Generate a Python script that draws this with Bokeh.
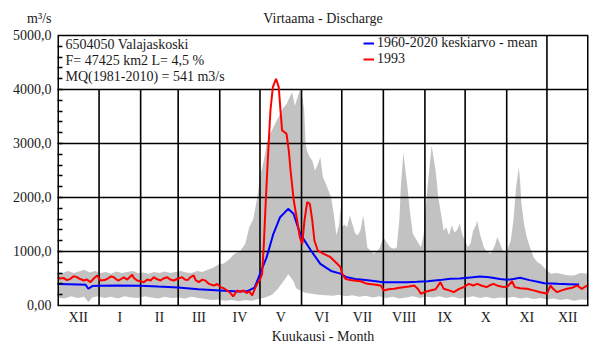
from bokeh.plotting import figure
from bokeh.models import Range1d, FixedTicker, Label, Legend, LegendItem
from bokeh.embed import file_html
from bokeh.resources import INLINE

# ---------------- data ----------------
month_labels = ["XII", "I", "II", "III", "IV", "V", "VI", "VII", "VIII", "IX", "X", "XI", "XII"]
month_days = [31, 31, 28, 31, 30, 31, 30, 31, 31, 30, 31, 30, 31]
y_ticks = [0, 1000, 2000, 3000, 4000, 5000]
y_tick_labels = ["0,00", "1000,0", "2000,0", "3000,0", "4000,0", "5000,0"]
unit_label = "m³/s"

# 1960-2020 mean discharge (day counted from 1 Dec)
mean_days = [0, 8, 16, 21, 23, 26, 31, 45, 62, 75, 90, 105, 121, 135, 142, 147, 151, 156, 161, 166,
             172, 176, 181, 189, 196, 204, 211, 215, 222, 228, 236, 243, 252, 261, 268, 276, 285, 293,
             300, 308, 315, 322, 330, 335, 340, 345, 352, 358, 363, 373, 381, 389]
mean_q = [400, 395, 390, 385, 310, 360, 365, 370, 365, 350, 335, 300, 280, 260, 270, 330, 587, 895, 1327, 1635,
          1790, 1700, 1327, 1018, 772, 640, 590, 530, 490, 476, 455, 432, 430, 432, 440, 450, 470, 494,
          500, 520, 537, 525, 490, 476, 490, 513, 470, 440, 413, 401, 395, 389]

# 1993 discharge
q1993_days = [0, 2, 4.5, 7, 9.7, 12, 14, 17, 19.6, 22, 24.6, 27, 29.6, 32, 35, 37, 40, 42, 44, 45.7,
              48, 49.4, 52, 55.7, 57, 59.4, 62, 64.4, 67, 69.4, 71.8, 74, 76.8, 79, 81.8, 84, 86.7, 90,
              93, 95, 97, 99, 101.6, 103, 105.4, 108, 110.4, 113, 116.6, 119, 121.6, 124, 126.5, 129,
              131, 134, 136, 138.7, 141, 143, 145.2, 147, 149, 151, 152.6, 153.9, 155, 156.8, 158.8,
              160.6, 163, 165, 166.3, 167.5, 169.3, 170.8, 172.5, 173.8, 176.2, 178.7, 180.7, 182.5,
              184.2, 186.2, 188.2, 190, 191.6, 194.1, 198.6, 203.6, 208.6, 211, 212.3, 214.8, 218, 221,
              226, 231, 236, 241, 243.3, 247, 251, 255, 258, 262, 266, 269, 271, 274, 278, 282, 285.6,
              288, 292, 295.5, 299, 303, 306.7, 310, 313, 316, 320, 323, 325, 329, 333, 336, 339, 341,
              345, 350, 355, 360, 363, 365, 367.6, 370, 372.6, 376, 380, 384, 387.5, 391, 393, 396]
q1993 = [524, 500, 510, 470, 494, 540, 530, 490, 463, 480, 432, 500, 556, 463, 470, 490, 540, 524, 480, 463,
         500, 520, 480, 568, 510, 463, 450, 432, 480, 463, 524, 490, 463, 500, 524, 480, 463, 500,
         524, 480, 470, 520, 556, 470, 432, 480, 460, 400, 370, 400, 340, 320, 278, 230,
         167, 278, 250, 278, 230, 260, 185, 300, 407, 480, 587, 1142, 1759, 2685, 3611,
         4043, 4198, 4043, 3611, 3240, 3210, 3180, 2870, 2500, 1944, 1574, 1265, 1142,
         1574, 1913, 1883, 1574, 1204, 1018, 957, 895, 772, 710, 587, 494, 470, 463,
         450, 401, 390, 370, 278, 300, 309, 330, 340, 350, 370, 300, 216, 250, 278, 300, 432,
         309, 280, 247, 300, 340, 401, 370, 401, 370, 340, 380, 401, 360, 340, 360, 450, 340,
         320, 309, 280, 247, 230, 216, 370, 300, 247, 280, 309, 330, 370, 309, 340, 383]

# envelope of all years (min / max)
env_upper_days = [0, 4, 8, 12, 16, 20, 24, 28, 32, 36, 40, 44, 48, 52, 56, 60, 64, 68, 72, 76, 80, 84, 88,
                  92, 96, 100, 104, 108, 112, 116, 120, 124, 128, 132, 136, 140, 143, 146, 149, 151, 154,
                  156, 159, 162, 165, 168, 171, 173, 175, 177, 179, 181, 183, 184, 185, 186, 188, 190,
                  192, 194, 196, 198, 201, 204, 206, 208, 210, 211, 212, 214, 216, 218, 220, 222, 224,
                  226, 228, 230, 231, 234, 236, 240, 243, 246, 248, 251, 253, 255, 256, 258, 259, 261,
                  263, 265, 268, 271, 273, 275, 276, 278, 279, 280, 282, 284, 286, 288, 290, 292, 294,
                  296, 298, 300, 302, 304, 306, 308, 310, 312, 313, 315, 318, 320, 323, 326, 328, 330,
                  332, 335, 338, 340, 342, 344, 345, 346, 348, 350, 352, 355, 358, 360, 363, 365, 368,
                  372, 375, 380, 385, 390, 396]
env_upper = [620, 600, 640, 600, 630, 660, 610, 640, 600, 620, 590, 630, 600, 620, 640, 600, 610, 590, 620,
             600, 630, 600, 620, 640, 610, 600, 640, 620, 660, 700, 760, 780, 850, 960, 1000, 1140, 1450,
             1600, 2000, 2376, 2700, 2994, 3200, 3350, 3500, 3650, 3735, 3850, 3950, 3700, 3850, 4010,
             3800, 3611, 3000, 2870, 2750, 2685, 2500, 2600, 2746, 2376, 2200, 2006, 1700, 1300, 1500,
             1820, 1450, 1500, 1450, 1667, 1500, 1333, 1300, 1400, 1667, 1300, 1080, 1000, 957, 1050,
             1265, 1150, 1080, 1050, 1080, 1600, 2191, 2840, 2600, 2191, 1700, 1327, 1204, 1080, 1300,
             1900, 2191, 2700, 2963, 2800, 2500, 2000, 1698, 1389, 1450, 1300, 1481, 1350, 1400, 1512,
             1300, 1200, 1080, 1150, 1389, 1480, 1574, 1327, 1080, 1000, 957, 1100, 1265, 1150, 1018,
             1000, 1200, 1574, 2191, 2561, 2300, 1883, 1500, 1265, 1100, 895, 800, 772, 700, 648, 587,
             600, 587, 560, 556, 600, 587]
env_lower_days = [0, 5, 10, 15, 20, 23, 26, 30, 35, 40, 45, 50, 55, 60, 65, 70, 75, 80, 85, 90, 95, 100,
                  105, 110, 115, 120, 125, 130, 135, 140, 145, 150, 155, 160, 164, 167, 170, 172, 174,
                  176, 178, 180, 184, 188, 195, 200, 205, 210, 215, 220, 225, 230, 235, 240, 245, 250,
                  255, 260, 265, 270, 275, 280, 285, 290, 295, 300, 305, 310, 315, 320, 325, 330, 335,
                  340, 345, 350, 355, 360, 365, 370, 375, 380, 385, 390, 396]
env_lower = [150, 130, 170, 140, 160, 60, 150, 170, 140, 160, 130, 170, 150, 140, 170, 150, 130, 160, 140,
             150, 130, 160, 140, 120, 100, 110, 90, 100, 80, 100, 90, 120, 150, 200, 300, 400, 500, 580,
             520, 450, 320, 290, 240, 220, 200, 190, 180, 200, 170, 190, 160, 180, 150, 170, 140, 160,
             130, 150, 170, 140, 160, 150, 170, 140, 160, 130, 150, 170, 140, 160, 130, 150, 140, 160,
             130, 150, 120, 140, 110, 130, 100, 120, 90, 110, 100]

# ---------------- derived structure ----------------
bounds = []
acc = 0
for d in month_days:
    acc += d
    bounds.append(acc)
x_end = bounds[-1]
starts = [0] + bounds[:-1]
centers = [(a + b) / 2 for a, b in zip(starts, bounds)]
inner_bounds = bounds[:-1]
y_max = y_ticks[-1]

SERIF = "Liberation Serif"
TXT = "#1a1a1a"

# frame extends to the top of the canvas so the heading fits inside it
Y_TOP = 5648
UNIT_Y = 5315

p = figure(width=593, height=347, x_range=Range1d(0, x_end), y_range=Range1d(0, Y_TOP),
           output_backend="svg", toolbar_location=None, title=None,
           min_border_left=57, min_border_right=5, min_border_top=0, min_border_bottom=42)
p.background_fill_color = "white"
p.border_fill_color = "white"
p.outline_line_color = None
p.xgrid.visible = False
p.ygrid.visible = False

# min-max envelope
px = env_upper_days + env_lower_days[::-1]
py = env_upper + env_lower[::-1]
p.patch(px, py, fill_color="#c2c2c2", line_color=None)

# grid lines (vertical ones stop at 4000 except the last)
tops = [y_max if b == bounds[-2] else y_ticks[-2] for b in inner_bounds]
p.segment(x0=inner_bounds, y0=[0] * len(inner_bounds), x1=inner_bounds, y1=tops,
          line_color="black", line_width=1.6)
hl = y_ticks[1:-1]
p.segment(x0=[0] * len(hl), y0=hl, x1=[x_end] * len(hl), y1=hl, line_color="black", line_width=1.6)

r_mean = p.line(mean_days, mean_q, line_color="#0000ff", line_width=2)
r_93 = p.line(q1993_days, q1993, line_color="#ff0000", line_width=2)

# plot box
p.segment(x0=[0], y0=[y_max], x1=[x_end], y1=[y_max], line_color="black", line_width=1.6)
p.segment(x0=[0, x_end], y0=[0, 0], x1=[0, x_end], y1=[y_max, y_max], line_color="black", line_width=3)

# axes
xa = p.xaxis[0]
xa.ticker = FixedTicker(ticks=centers)
xa.major_label_overrides = {c: l for c, l in zip(centers, month_labels)}
xa.major_tick_in = 0
xa.major_tick_out = 0
xa.minor_tick_in = 0
xa.minor_tick_out = 0
xa.major_label_standoff = 4
xa.axis_line_color = "black"
xa.axis_line_width = 1.5
xa.major_label_text_font = SERIF
xa.major_label_text_font_size = "14px"
xa.major_label_text_color = TXT
xa.axis_label = "Kuukausi - Month"
xa.axis_label_text_font = SERIF
xa.axis_label_text_font_size = "14px"
xa.axis_label_text_font_style = "normal"
xa.axis_label_text_color = TXT
xa.axis_label_standoff = 1

ya = p.yaxis[0]
ya.ticker = FixedTicker(ticks=y_ticks + [UNIT_Y], minor_ticks=list(range(200, 5000, 200)))
labels_map = {t: l for t, l in zip(y_ticks, y_tick_labels)}
labels_map[UNIT_Y] = unit_label
ya.major_label_overrides = labels_map
ya.major_tick_in = 0
ya.major_tick_out = 0
ya.minor_tick_in = 5
ya.minor_tick_out = 0
ya.minor_tick_line_width = 1.5
ya.major_label_standoff = 6
ya.axis_line_color = None
ya.major_label_text_font = SERIF
ya.major_label_text_font_size = "14px"
ya.major_label_text_color = TXT

# legend
legend = Legend(items=[LegendItem(label="1960-2020 keskiarvo - mean", renderers=[r_mean]),
                       LegendItem(label="1993", renderers=[r_93])],
                location=(306, 238), padding=0, margin=0, spacing=0,
                glyph_width=11, glyph_height=16, label_height=16, label_standoff=3,
                border_line_color=None, background_fill_alpha=0,
                label_text_font=SERIF, label_text_font_size="14px", label_text_color=TXT)
p.add_layout(legend)

# texts
def lab(x, y, t, align="left"):
    p.add_layout(Label(x=x, y=y, x_units="screen", y_units="screen", text=t, text_font=SERIF,
                       text_font_size="14px", text_color=TXT, text_baseline="middle", text_align=align))

lab(8, 261.5, "6504050 Valajaskoski")
lab(8, 245.5, "F=  47425 km2 L=  4,5 %")
lab(8, 229.5, "MQ(1981-2010) = 541 m3/s")
lab(265.5, 287, "Virtaama - Discharge", "center")

open("out.html", "w").write(file_html(p, INLINE))
